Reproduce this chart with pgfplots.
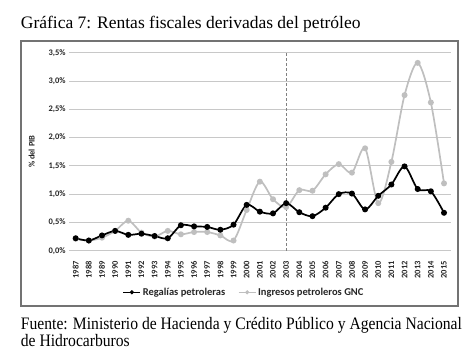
\documentclass[border=0pt]{standalone}
\usepackage{fontspec}
\setmainfont{Liberation Serif}
\newfontfamily\carlito{Carlito}
\usepackage{graphicx}
\usepackage{pgfplots}
\pgfplotsset{compat=1.18}
\definecolor{lgray}{RGB}{191,191,191}
\definecolor{gridc}{RGB}{200,200,200}
\definecolor{boxgray}{RGB}{115,115,115}
\newcommand{\fnt}{\fontsize{17.5}{20}\selectfont}
\newsavebox{\footbox}
\begin{document}
\sbox{\footbox}{\fnt Fuente: Ministerio de Hacienda y Crédito Público y Agencia Nacional}%
\pgfmathsetmacro{\sf}{441/(\wd\footbox/1pt)}%
\begin{tikzpicture}
\fill[boxgray] (-49.1pt,-56.3pt) rectangle (389.9pt,-54.3pt);
\fill[boxgray] (-49.1pt,208.2pt) rectangle (389.9pt,210.2pt);
\fill[boxgray] (-49.1pt,-56.3pt) rectangle (-47.1pt,210.2pt);
\fill[boxgray] (387.9pt,-56.3pt) rectangle (389.9pt,210.2pt);
\begin{axis}[
  name=ax,
  at={(0pt,0pt)}, anchor=south west,
  scale only axis,
  width=381.5pt, height=198pt,
  xmin=1986.5, xmax=2015.5,
  ymin=0, ymax=3.5,
  xtick={1987,...,2015},
  ytick={0,0.5,...,3.5},
  axis line style={draw=none},
  major tick length=0pt,
  ymajorgrids,
  grid style={gridc, line width=0.8pt},
  font=\carlito,
  /pgf/number format/assume math mode=true,
  xticklabel style={rotate=90, anchor=east, font=\carlito\bfseries\fontsize{8.5}{9}\selectfont, text=black!85},
  xticklabel={\pgfmathprintnumber[1000 sep={}, precision=0]{\tick}},
  xticklabel shift=7pt,
  yticklabel style={font=\carlito\bfseries\fontsize{8.5}{9}\selectfont, text=black!85},
  yticklabel={\pgfmathprintnumber[fixed, fixed zerofill, precision=1, use comma]{\tick}\%},
  legend style={at={(0.459,-0.210)}, anchor=center, draw=none, fill=none,
    font=\carlito\bfseries\fontsize{10.5}{11}\selectfont, text=black!85, legend columns=2,
    inner xsep=0pt,
    /tikz/every even column/.append style={column sep=11pt}},
  legend cell align=left,
  reverse legend,
  legend image code/.code={\draw[line width=0.9pt, mark size=1.6pt, mark repeat=2, mark phase=2] plot coordinates {(0pt,0pt) (8.5pt,0pt) (17pt,0pt)};},
]
\addplot[gray, densely dashed, line width=0.7pt, forget plot] coordinates {(2003,0) (2003,3.5)};
\addplot[lgray, line width=1.7pt, smooth, tension=0.5, mark=*, mark size=2.1pt, mark options={fill=lgray, draw=lgray}] coordinates {
(1987,0.21) (1988,0.18) (1989,0.23) (1990,0.35) (1991,0.53) (1992,0.32) (1993,0.25) (1994,0.35) (1995,0.29)
(1996,0.33) (1997,0.33) (1998,0.27) (1999,0.18) (2000,0.72) (2001,1.22) (2002,0.91) (2003,0.77) (2004,1.07)
(2005,1.06) (2006,1.35) (2007,1.53) (2008,1.38) (2009,1.81) (2010,0.84) (2011,1.57) (2012,2.75) (2013,3.32)
(2014,2.62) (2015,1.19)};
\addlegendentry{Ingresos petroleros GNC}
\addplot[black, line width=1.7pt, smooth, tension=0.5, mark=*, mark size=2.1pt] coordinates {
(1987,0.22) (1988,0.18) (1989,0.27) (1990,0.35) (1991,0.28) (1992,0.30) (1993,0.26) (1994,0.22) (1995,0.45)
(1996,0.43) (1997,0.42) (1998,0.37) (1999,0.46) (2000,0.81) (2001,0.69) (2002,0.66) (2003,0.84) (2004,0.68)
(2005,0.61) (2006,0.76) (2007,1.00) (2008,1.01) (2009,0.73) (2010,0.97) (2011,1.17) (2012,1.49) (2013,1.09)
(2014,1.05) (2015,0.67)};
\addlegendentry{Regalías petroleras}
\end{axis}
\node[rotate=90, font=\carlito\bfseries\fontsize{8.5}{9}\selectfont, text=black!85] at (-37.4pt,99pt) {\% del PIB};
\node[anchor=base west, inner sep=0pt, font=\fnt] at (-48.4pt,222.4pt) {Gráfica 7: Rentas fiscales derivadas del petróleo};
\node[anchor=base west, inner sep=0pt] at (-48.4pt,-78.6pt) {\scalebox{\sf}[1]{\usebox{\footbox}}};
\node[anchor=base west, inner sep=0pt] at (-48.4pt,-96pt) {\scalebox{\sf}[1]{\fnt de Hidrocarburos}};
\useasboundingbox (-69.1pt,-110.3pt) rectangle (405.9pt,250.7pt);
\end{tikzpicture}
\end{document}
